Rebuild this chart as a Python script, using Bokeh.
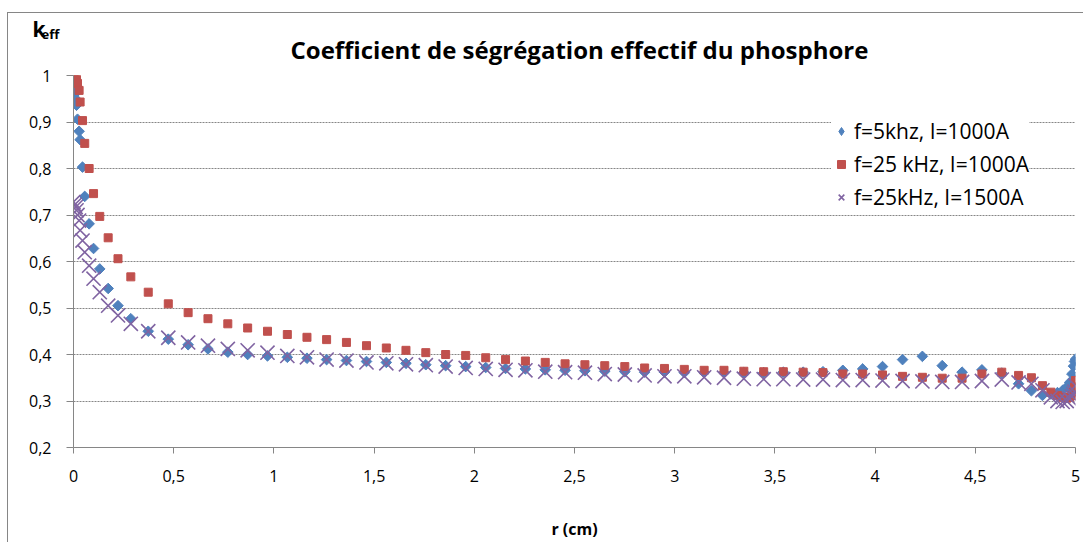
import numpy as np
from bokeh.plotting import figure
from bokeh.models import (ColumnDataSource, FixedTicker, Legend, LegendItem, Label)
from bokeh.embed import file_html
from bokeh.resources import INLINE

# ---------------- data ----------------
r_cm = [0, 0.006, 0.011, 0.015, 0.02, 0.028, 0.033, 0.045, 0.056, 0.078,
        0.10, 0.131, 0.173, 0.222, 0.286, 0.373, 0.473, 0.572, 0.671, 0.770,
        0.869, 0.968, 1.067, 1.165, 1.263, 1.362, 1.462, 1.561, 1.659, 1.758,
        1.857, 1.957, 2.057, 2.156, 2.255, 2.354, 2.453, 2.552, 2.651, 2.751,
        2.850, 2.949, 3.048, 3.147, 3.246, 3.345, 3.444, 3.542, 3.641, 3.740,
        3.839, 3.938, 4.037, 4.137, 4.236, 4.335, 4.434, 4.533, 4.632, 4.716,
        4.780, 4.835, 4.877, 4.910, 4.936, 4.956, 4.971, 4.982, 4.990, 4.995,
        5.0]

k_5khz_1000A = [0.968, 0.960, 0.950, 0.936, 0.906, 0.880, 0.862, 0.803, 0.740, 0.681,
                0.628, 0.584, 0.542, 0.505, 0.477, 0.450, 0.433, 0.421, 0.412, 0.405,
                0.400, 0.397, 0.394, 0.392, 0.389, 0.387, 0.385, 0.383, 0.381, 0.378,
                0.376, 0.374, 0.372, 0.370, 0.369, 0.367, 0.366, 0.365, 0.364, 0.363,
                0.362, 0.362, 0.361, 0.361, 0.361, 0.361, 0.361, 0.362, 0.362, 0.363,
                0.366, 0.369, 0.374, 0.389, 0.396, 0.376, 0.362, 0.367, 0.360, 0.337,
                0.322, 0.312, 0.315, 0.318, 0.323, 0.330, 0.340, 0.358, 0.375, 0.385,
                0.390]

k_25khz_1000A = [0.998, 1.000, 0.996, 0.993, 0.983, 0.968, 0.943, 0.903, 0.854, 0.800,
                 0.746, 0.697, 0.651, 0.606, 0.567, 0.534, 0.509, 0.490, 0.477, 0.466,
                 0.457, 0.450, 0.443, 0.437, 0.432, 0.426, 0.419, 0.414, 0.409, 0.404,
                 0.400, 0.398, 0.393, 0.389, 0.386, 0.383, 0.380, 0.378, 0.376, 0.374,
                 0.371, 0.370, 0.368, 0.366, 0.366, 0.364, 0.363, 0.363, 0.362, 0.361,
                 0.358, 0.358, 0.356, 0.353, 0.351, 0.349, 0.349, 0.358, 0.362, 0.355,
                 0.350, 0.333, 0.319, 0.312, 0.308, 0.306, 0.308, 0.312, 0.320, 0.330,
                 0.344]

k_25khz_1500A = [0.728, 0.722, 0.717, 0.710, 0.700, 0.688, 0.667, 0.645, 0.620, 0.591,
                 0.563, 0.534, 0.505, 0.484, 0.466, 0.450, 0.436, 0.426, 0.419, 0.412,
                 0.409, 0.404, 0.397, 0.394, 0.389, 0.387, 0.383, 0.381, 0.379, 0.377,
                 0.374, 0.371, 0.369, 0.367, 0.366, 0.363, 0.362, 0.361, 0.358, 0.357,
                 0.355, 0.353, 0.353, 0.351, 0.350, 0.348, 0.347, 0.347, 0.346, 0.346,
                 0.345, 0.345, 0.344, 0.343, 0.342, 0.341, 0.341, 0.343, 0.346, 0.340,
                 0.337, 0.323, 0.308, 0.300, 0.298, 0.300, 0.305, 0.310, 0.315, 0.320,
                 0.333]

series_labels = ["f=5khz, I=1000A", "f=25 kHz, I=1000A", "f=25kHz, I=1500A"]
x_ticks = [0, 0.5, 1, 1.5, 2, 2.5, 3, 3.5, 4, 4.5, 5]
x_tick_labels = ["0", "0,5", "1", "1,5", "2", "2,5", "3", "3,5", "4", "4,5", "5"]
y_ticks = [0.2, 0.3, 0.4, 0.5, 0.6, 0.7, 0.8, 0.9, 1]
y_tick_labels = ["0,2", "0,3", "0,4", "0,5", "0,6", "0,7", "0,8", "0,9", "1"]

title_text = "Coefficient de ségrégation effectif du phosphore"
x_label = "r (cm)"
y_label_main = "k"
y_label_sub = "eff"

FONT = "Open Sans"
AXIS_GREY = "#868686"
BLUE, RED, PURPLE = "#4F81BD", "#C0504D", "#8064A2"

# ---------------- figure ----------------
W, H = 1076, 530
p = figure(width=W, height=H, x_range=(0, 5), y_range=(0.2, 1.0), title=None,
           output_backend="svg", toolbar_location=None,
           min_border_left=65, min_border_right=W - 1067, min_border_top=62,
           min_border_bottom=H - 434)
p.margin = (13, 0, 0, 8)
p.styles = {"box-shadow": "-1px -1px 0px 0px #868686"}
p.outline_line_color = None
p.background_fill_color = "white"
p.border_fill_color = "white"

for ax in (p.xaxis[0], p.yaxis[0]):
    ax.axis_line_color = AXIS_GREY
    ax.major_tick_line_color = AXIS_GREY
    ax.minor_tick_line_color = None
    ax.major_tick_in = 0
    ax.major_label_text_font = FONT
    ax.major_label_text_font_size = "16px"
    ax.major_label_text_color = "black"

p.xaxis.ticker = FixedTicker(ticks=x_ticks)
p.xaxis.major_label_overrides = dict(zip(x_ticks, x_tick_labels))
p.xaxis.major_tick_out = 6
p.xaxis.major_label_standoff = 16
p.xaxis.axis_label = x_label
p.xaxis.axis_label_text_font = FONT
p.xaxis.axis_label_text_font_size = "16px"
p.xaxis.axis_label_text_font_style = "bold"
p.xaxis.axis_label_text_color = "black"
p.xaxis.axis_label_standoff = 33

p.yaxis.ticker = FixedTicker(ticks=y_ticks)
p.yaxis.major_label_overrides = dict(zip(y_ticks, y_tick_labels))
p.yaxis.major_tick_out = 7
p.yaxis.major_label_standoff = 15

p.xgrid.grid_line_color = None
p.ygrid.grid_line_color = AXIS_GREY
p.ygrid.grid_line_dash = "2 1"
p.ygrid.grid_line_width = 1

# texts outside the frame: placed in side panels (canvas units) so they are not clipped
title_lbl = Label(x=282, y=36, x_units="canvas", y_units="canvas", text=title_text,
                  text_font=FONT, text_font_size="24px", text_font_style="bold",
                  text_color="black", text_baseline="alphabetic", text_align="left")
p.add_layout(title_lbl, "above")
k_lbl = Label(x=24, y=15, x_units="canvas", y_units="canvas", text=y_label_main,
              text_font=FONT, text_font_size="21px", text_font_style="bold",
              text_color="black", text_baseline="alphabetic", text_align="left")
p.add_layout(k_lbl, "left")
eff_lbl = Label(x=33, y=20, x_units="canvas", y_units="canvas", text=y_label_sub,
                text_font=FONT, text_font_size="13px", text_font_style="bold",
                text_color="black", text_baseline="alphabetic", text_align="left")
p.add_layout(eff_lbl, "above")

# ---------------- series ----------------
src = ColumnDataSource(dict(r=r_cm, a=k_5khz_1000A, b=k_25khz_1000A, c=k_25khz_1500A))

g1 = p.scatter("r", "a", source=src, marker="square", angle=np.pi / 4, size=7.5,
               fill_color=BLUE, line_color=BLUE)
g2 = p.scatter("r", "b", source=src, marker="square", size=8,
               fill_color=RED, line_color=RED)
g3 = p.scatter("r", "c", source=src, marker="x", size=20, line_width=1.6,
               line_color=PURPLE)

# legend symbol for the diamond series (legend glyphs ignore marker angle);
# a single NaN point, so nothing is drawn in the plot area
g1_key = p.scatter(x=[np.nan], y=[np.nan], marker="diamond", size=15,
                   fill_color=BLUE, line_color=BLUE)

legend = Legend(items=[LegendItem(label=series_labels[0], renderers=[g1_key]),
                       LegendItem(label=series_labels[1], renderers=[g2]),
                       LegendItem(label=series_labels[2], renderers=[g3])],
                location=(758, 236))
legend.border_line_color = None
legend.background_fill_color = "white"
legend.background_fill_alpha = 1
legend.label_text_font = FONT
legend.label_text_font_size = "21px"
legend.label_text_color = "black"
legend.padding = 8
legend.glyph_width = 20
legend.glyph_height = 24
legend.label_height = 24
legend.spacing = 5
legend.label_standoff = 3
legend.margin = 0
p.add_layout(legend)

open("out.html", "w").write(file_html(p, INLINE))
